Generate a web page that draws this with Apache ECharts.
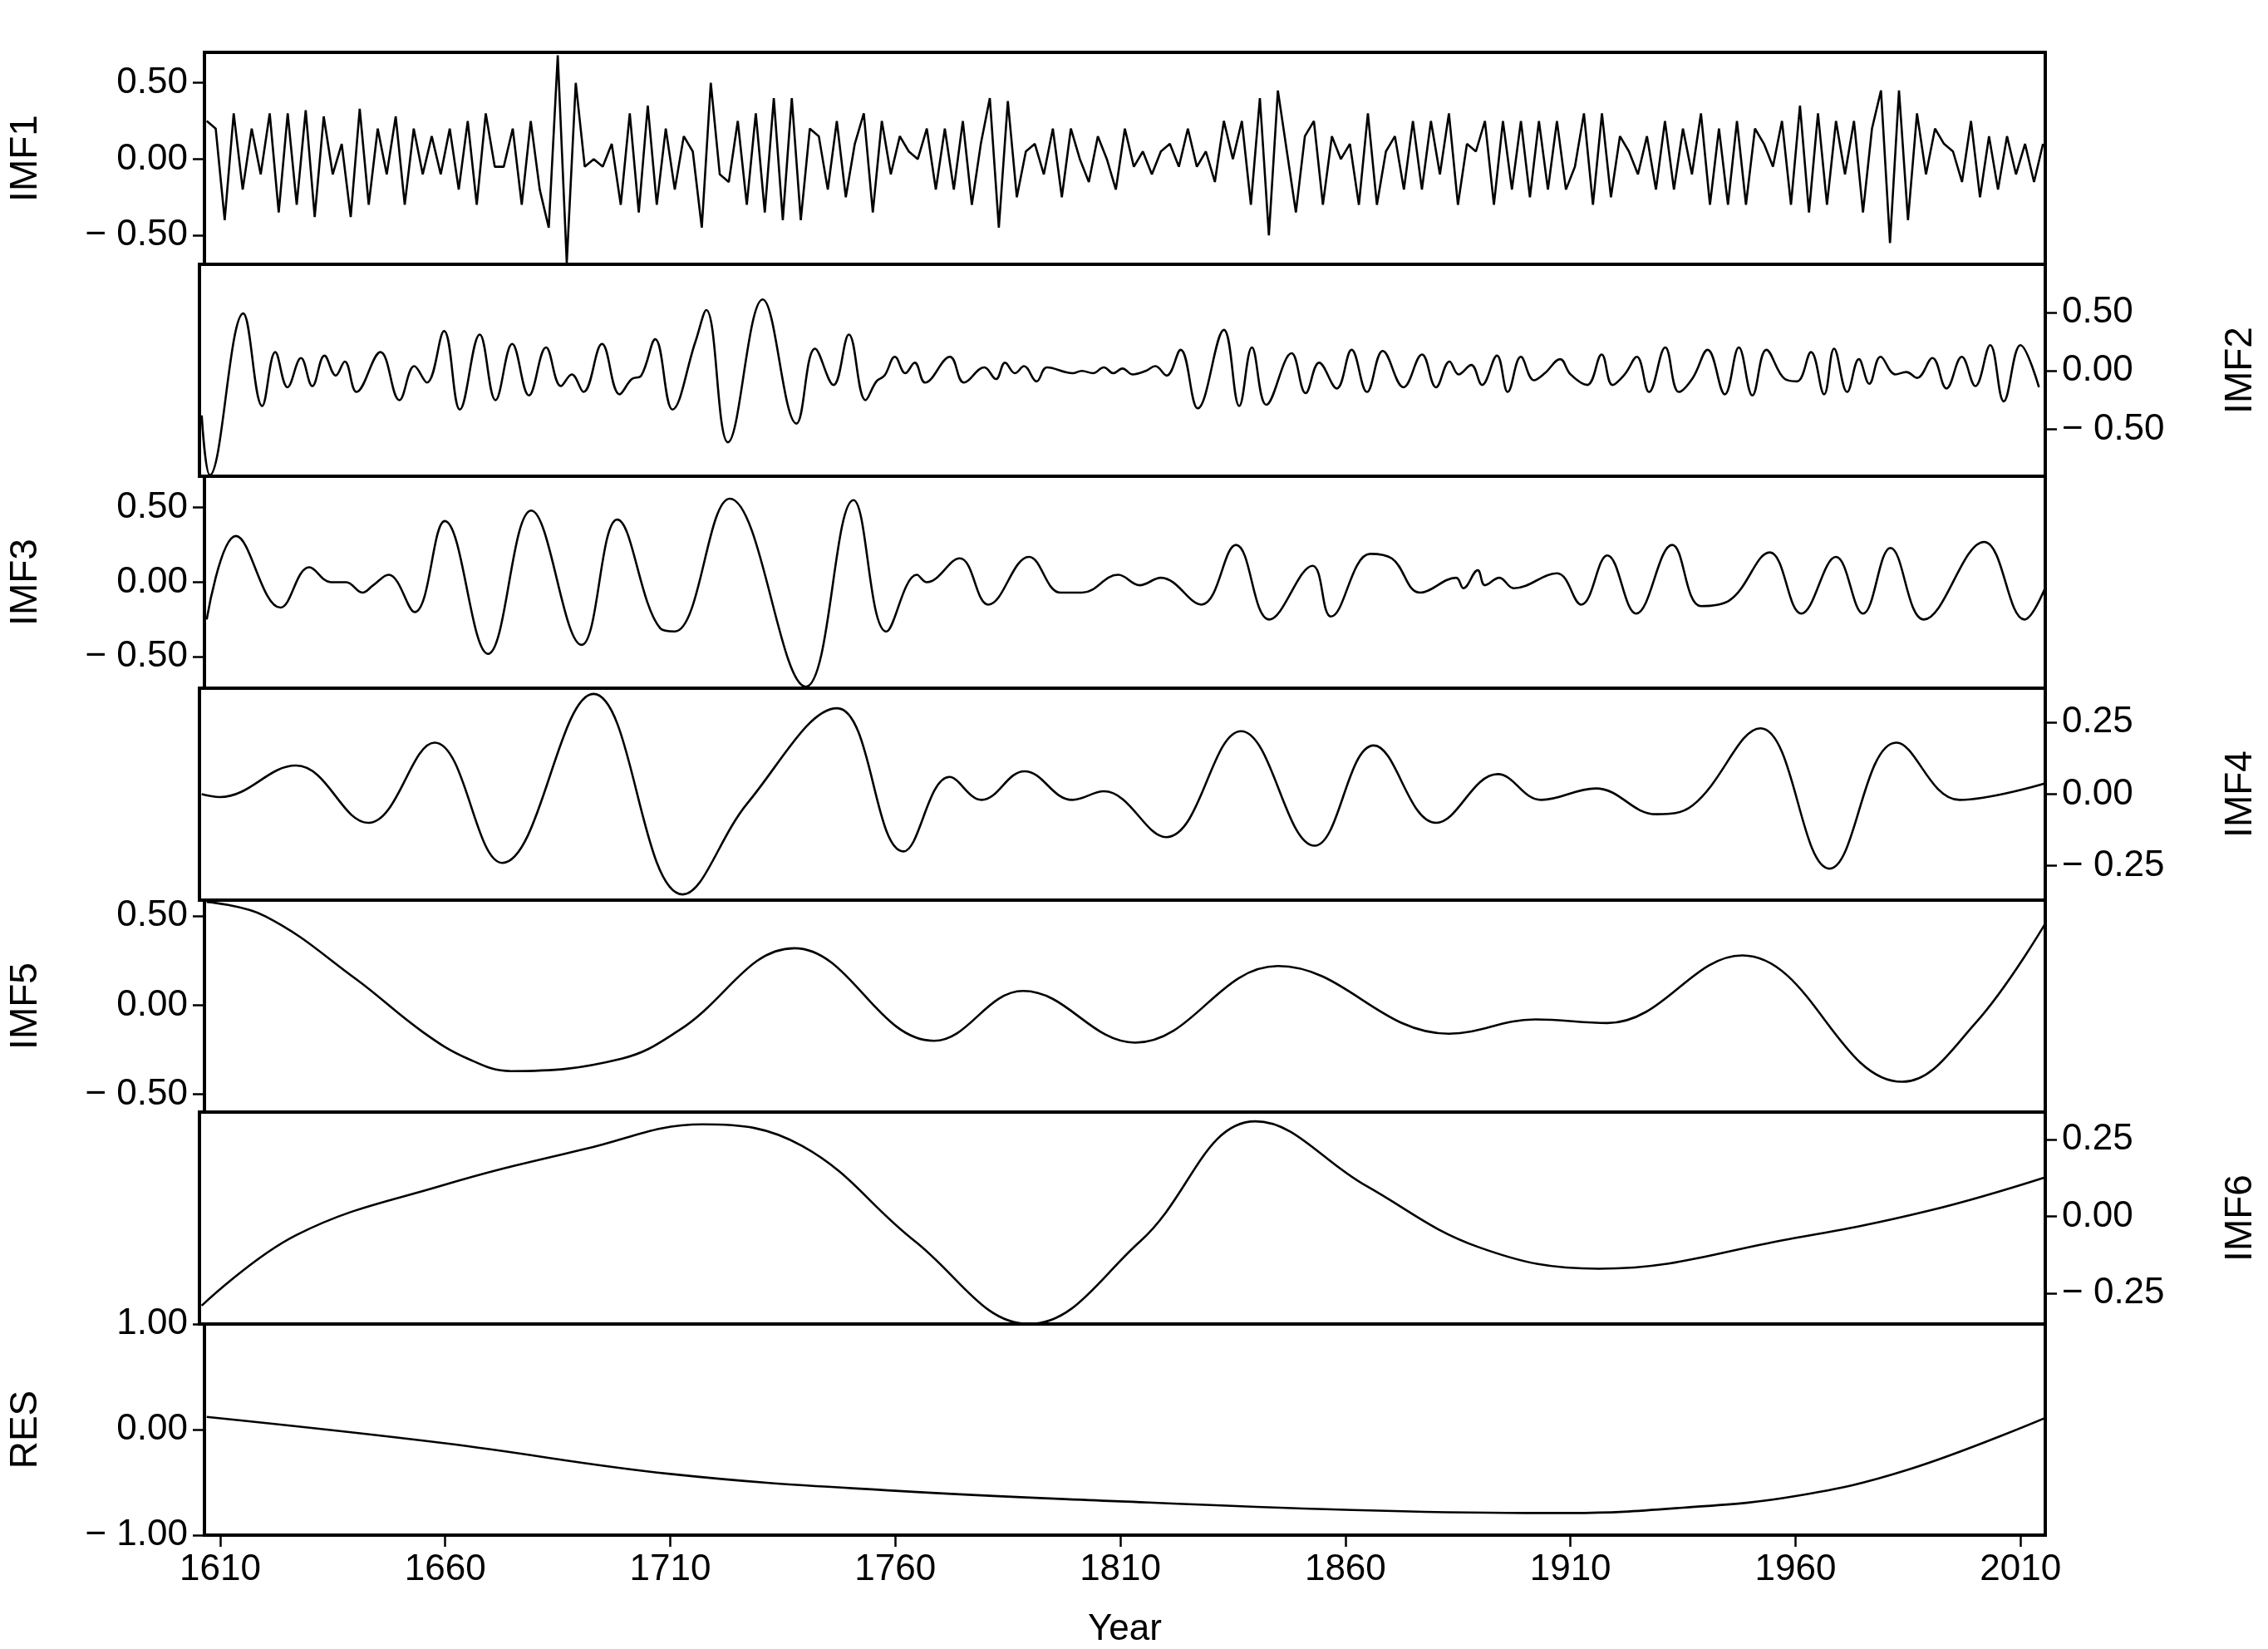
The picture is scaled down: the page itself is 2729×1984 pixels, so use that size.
<!DOCTYPE html>
<html><head><meta charset="utf-8">
<script src="https://cdn.jsdelivr.net/npm/echarts@6/dist/echarts.min.js"></script>
<style>html,body{margin:0;padding:0;background:#fff}#c{width:2729px;height:1984px}</style>
</head><body><div id="c"></div>
<script>
// IMF1: annual-scale component read every 2 years, starting 1607
const imf1Start = 1607, imf1Step = 2;
const imf1Values = [
 0.25,0.2,-0.4,0.3,-0.2,0.2,-0.1,0.3,-0.35,0.3,-0.3,0.32,-0.38,0.28,-0.1,0.1,-0.38,
 0.33,-0.3,0.2,-0.1,0.28,-0.3,0.2,-0.1,0.15,-0.1,0.2,-0.2,0.25,-0.3,0.3,-0.05,-0.05,0.2,-0.3,0.25,-0.2,
 -0.45,0.68,-0.68,0.5,-0.05,0.0,-0.05,0.1,-0.3,0.3,-0.35,0.35,-0.3,0.2,-0.2,0.15,0.05,
 -0.45,0.5,-0.1,-0.15,0.25,-0.3,0.3,-0.35,0.4,-0.4,0.4,-0.4,0.2,0.15,-0.2,0.25,-0.25,0.1,0.3,-0.35,0.25,-0.1,
 0.15,0.05,0.0,0.2,-0.2,0.2,-0.2,0.25,-0.3,0.1,0.4,-0.45,0.38,-0.25,0.05,0.1,-0.1,0.2,-0.25,0.2,0.0,-0.15,0.15,0.0,-0.2,0.2,-0.05,0.05,-0.1,
 0.05,0.1,-0.05,0.2,-0.05,0.05,-0.15,0.25,0.0,0.25,-0.3,0.4,-0.5,0.45,0.05,-0.35,0.15,0.25,-0.3,0.15,
 0.0,0.1,-0.3,0.3,-0.3,0.05,0.15,-0.2,0.25,-0.2,0.25,-0.1,0.3,-0.3,0.1,0.05,0.25,-0.3,0.25,-0.2,
 0.25,-0.25,0.25,-0.2,0.25,-0.2,-0.05,0.3,-0.3,0.3,-0.25,0.15,0.05,-0.1,0.15,-0.2,
 0.25,-0.2,0.2,-0.1,0.3,-0.3,0.2,-0.3,0.25,-0.3,0.2,0.1,-0.05,0.25,-0.3,0.35,-0.35,0.3,-0.3,0.25,
 -0.1,0.25,-0.35,0.2,0.45,-0.55,0.45,-0.4,0.3,-0.1,0.2,0.1,0.05,-0.15,0.25,-0.25,0.15,-0.2,0.15,-0.1,
 0.1,-0.15,0.1
];

const imf2Years = [1607,1608.8,1616.2,1620.4,1623.3,1626,1629,1631.5,1634.2,1636.7,1638.7,1641.3,1646.6,1650.8,1654.1,1656.9,1660.7,1664.2,1668.6,1672.1,1675.8,1679.5,1683.3,1686.6,1689,1691.6,1695.7,1699.6,1702.3,1704.4,1707.5,1711.3,1716.4,1718.8,1723.6,1731.3,1738.8,1742.9,1747,1750.4,1754.1,1756.5,1758.3,1760.6,1762.9,1765,1767.3,1772.8,1775.9,1780.4,1783,1785,1787.2,1789.2,1792,1794.3,1800,1802,1804.5,1806.9,1809,1811,1813.3,1816.2,1818.3,1820.8,1823.9,1827.7,1833.5,1836.9,1839.7,1842.9,1848.5,1851.6,1854.6,1858.5,1861.8,1865.2,1868.7,1873.3,1877.4,1880.5,1883.5,1885.5,1888.3,1890.7,1894,1896.4,1899.3,1902.2,1904.6,1908,1910.3,1914,1917.2,1919.6,1922.3,1925,1927.7,1931.3,1934.3,1937.4,1940.7,1944.5,1947.6,1950.6,1953.7,1957.8,1960.5,1963.6,1966.5,1968.7,1971.6,1974.2,1976.5,1979,1982.3,1984.7,1987.1,1990.5,1993.6,1997,2000,2003.3,2006.3,2010,2014.1];
const imf2Values = [-0.38,-0.89,0.49,-0.3,0.16,-0.14,0.11,-0.13,0.13,-0.04,0.08,-0.18,0.16,-0.25,0.04,-0.1,0.34,-0.33,0.31,-0.25,0.23,-0.21,0.2,-0.13,-0.03,-0.18,0.23,-0.2,-0.07,-0.04,0.27,-0.33,0.25,0.52,-0.61,0.61,-0.45,0.19,-0.12,0.31,-0.25,-0.09,-0.04,0.12,-0.02,0.07,-0.1,0.12,-0.1,0.03,-0.07,0.07,-0.02,0.04,-0.09,0.03,-0.02,0.0,-0.02,0.03,-0.02,0.02,-0.03,0.0,0.04,-0.04,0.18,-0.32,0.35,-0.3,0.2,-0.29,0.15,-0.19,0.07,-0.15,0.18,-0.18,0.17,-0.14,0.14,-0.14,0.08,-0.03,0.05,-0.12,0.13,-0.18,0.12,-0.08,-0.02,0.1,-0.03,-0.12,0.14,-0.12,-0.03,0.12,-0.18,0.2,-0.18,-0.06,0.18,-0.2,0.2,-0.21,0.18,-0.07,-0.09,0.16,-0.2,0.19,-0.18,0.1,-0.11,0.12,-0.03,-0.01,-0.06,0.11,-0.15,0.12,-0.13,0.22,-0.26,0.22,-0.14];

const imf3Years = [1607,1613.5,1623.4,1629.8,1634.6,1638,1641.6,1644,1647.4,1653.2,1659.9,1669.5,1679.1,1690.3,1698.2,1707.8,1711,1723.2,1740.1,1750.7,1758,1764.8,1767,1774.3,1780.7,1789.7,1796.7,1801.5,1809.5,1814.3,1819,1828,1835.7,1843.1,1852.7,1856.8,1865.5,1870.3,1876.6,1884.6,1886.2,1889.4,1891,1894.2,1897.4,1907,1912.4,1918.2,1924.6,1932.6,1939,1945.4,1954.3,1961.3,1969,1975,1981.1,1988.5,2001.9,2010.9,2016];
const imf3Values = [-0.25,0.31,-0.17,0.1,0,0,-0.07,-0.02,0.05,-0.2,0.41,-0.48,0.48,-0.42,0.42,-0.31,-0.33,0.56,-0.7,0.55,-0.33,0.05,0.0,0.16,-0.15,0.17,-0.07,-0.07,0.05,-0.02,0.03,-0.15,0.25,-0.25,0.11,-0.23,0.19,0.16,-0.07,0.03,-0.04,0.08,-0.02,0.03,-0.04,0.06,-0.15,0.18,-0.21,0.25,-0.16,-0.12,0.2,-0.21,0.17,-0.21,0.23,-0.25,0.27,-0.25,0.0];

const imf4Years = [1607,1611,1627.9,1643.9,1658.6,1673.6,1693.8,1713.6,1728,1747.8,1762.5,1772.7,1779.8,1789.3,1799.9,1806.9,1820.7,1837.3,1853.6,1866.7,1880.5,1894.2,1903.8,1915.9,1929.3,1937.3,1952.4,1967.7,1982.5,1996.5,2016];
const imf4Values = [0.0,-0.01,0.1,-0.1,0.18,-0.24,0.35,-0.35,-0.03,0.3,-0.2,0.06,-0.02,0.08,-0.02,0.01,-0.15,0.22,-0.18,0.17,-0.1,0.07,-0.02,0.02,-0.07,-0.04,0.23,-0.26,0.18,-0.02,0.04];

const imf5Years = [1607,1620,1640,1655,1665,1674.6,1699.2,1712,1737.6,1768.6,1788.4,1813.3,1845,1883,1902.2,1918.2,1948.2,1983.7,2000,2016];
const imf5Values = [0.58,0.5,0.15,-0.15,-0.3,-0.37,-0.3,-0.14,0.32,-0.2,0.08,-0.21,0.22,-0.16,-0.08,-0.1,0.28,-0.43,-0.1,0.48];

const imf6Years = [1607,1628,1660,1692,1718,1740,1765,1790.3,1815,1840.5,1865,1890,1916.6,1960,1990,2016];
const imf6Values = [-0.29,-0.06,0.1,0.22,0.3,0.23,-0.08,-0.35,-0.08,0.31,0.1,-0.1,-0.17,-0.07,0.02,0.13];

const resYears = [1607,1660,1710,1760,1810,1860,1900,1910,1935,1960,1985,2016];
const resValues = [0.12,-0.13,-0.42,-0.58,-0.68,-0.76,-0.79,-0.79,-0.74,-0.63,-0.38,0.12];

const xTicks = [1610,1660,1710,1760,1810,1860,1910,1960,2010];
const panelNames = ['IMF1','IMF2','IMF3','IMF4','IMF5','IMF6','RES'];
const panelSides = ['left','right','left','right','left','right','left'];
const panelRanges = [[-0.69,0.70],[-0.90,0.91],[-0.71,0.71],[-0.37,0.37],[-0.60,0.59],[-0.35,0.34],[-1,1]];
const panelTicks = [[-0.5,0,0.5],[-0.5,0,0.5],[-0.5,0,0.5],[-0.25,0,0.25],[-0.5,0,0.5],[-0.25,0,0.25],[-1,0,1]];

const pairs = (xs, ys) => xs.map((x, i) => [x, ys[i]]);
const imf1Data = imf1Values.map((v, i) => [imf1Start + imf1Step * i, v]);
const seriesData = [
  imf1Data,
  pairs(imf2Years, imf2Values),
  pairs(imf3Years, imf3Values),
  pairs(imf4Years, imf4Values),
  pairs(imf5Years, imf5Values),
  pairs(imf6Years, imf6Values),
  pairs(resYears, resValues)
];

const FONT = 'Liberation Sans';
const FS = 44;
const top0 = 63, ph = 255;
const fmt = v => (v < 0 ? '\u2212 ' + Math.abs(v).toFixed(2) : v.toFixed(2));

const grid = [], xAxis = [], yAxis = [], series = [];
panelNames.forEach((name, i) => {
  grid.push({left: 240, right: 268, top: top0 + ph * i, height: ph, show: true,
    borderColor: '#000', borderWidth: 4, backgroundColor: 'transparent'});
  const last = i === panelNames.length - 1;
  xAxis.push({type: 'value', gridIndex: i, min: 1606.5, max: 2015.5,
    show: true, splitLine: {show: false}, axisLine: {show: false, onZero: false},
    axisTick: {show: last, length: 14, lineStyle: {color: '#000', width: 2.5}, customValues: xTicks},
    axisLabel: {show: last, customValues: xTicks, formatter: v => String(v), color: '#000', fontFamily: FONT, fontSize: FS, margin: 20},
    name: last ? 'Year' : '', nameLocation: 'middle', nameGap: 92,
    nameTextStyle: {color: '#000', fontFamily: FONT, fontSize: FS}});
  const side = panelSides[i];
  yAxis.push({type: 'value', gridIndex: i, position: side,
    min: panelRanges[i][0], max: panelRanges[i][1],
    splitLine: {show: false}, axisLine: {show: false, onZero: false},
    axisTick: {show: true, length: 14, lineStyle: {color: '#000', width: 2.5}, customValues: panelTicks[i]},
    axisLabel: {customValues: panelTicks[i], formatter: fmt, color: '#000', fontFamily: FONT, fontSize: FS, margin: 20},
    name: name, nameLocation: 'middle', nameRotate: 90, nameGap: side === 'left' ? 192 : 212,
    nameTextStyle: {color: '#000', fontFamily: FONT, fontSize: FS + 2}});
  series.push({type: 'line', xAxisIndex: i, yAxisIndex: i, data: seriesData[i],
    showSymbol: false, smooth: i === 0 ? false : 0.4, clip: true,
    lineStyle: {color: '#000', width: 2.6}, animation: false});
});

const chart = echarts.init(document.getElementById('c'), null, {renderer: 'canvas'});
chart.setOption({backgroundColor: '#fff', animation: false, grid, xAxis, yAxis, series});
</script></body></html>
